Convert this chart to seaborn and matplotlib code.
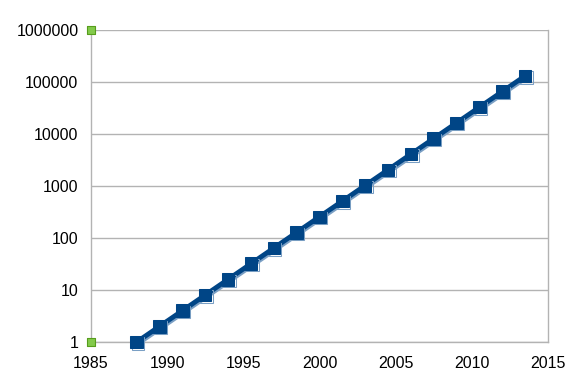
import matplotlib
matplotlib.use("Agg")
import matplotlib.pyplot as plt
import matplotlib.patheffects as pe
from matplotlib.ticker import FixedLocator, FuncFormatter
import seaborn as sns
import pandas as pd

years = [1988, 1989.5, 1991, 1992.5, 1994, 1995.5, 1997, 1998.5, 2000, 2001.5,
         2003, 2004.5, 2006, 2007.5, 2009, 2010.5, 2012, 2013.5]
values = [1, 2, 4, 8, 16, 32, 64, 128, 256, 512, 1024, 2048, 4096, 8192,
          16384, 32768, 65536, 131072]
corner_x = [1985, 1985]
corner_y = [1, 1000000]
y_ticks = [1, 10, 100, 1000, 10000, 100000, 1000000]
x_ticks = [1985, 1990, 1995, 2000, 2005, 2010, 2015]

sns.set_style("white")
plt.rcParams['font.family'] = ['Liberation Sans', 'DejaVu Sans']

fig = plt.figure(figsize=(5.82, 3.89), dpi=100)
ax = fig.add_axes([91/582, 47/389, 457/582, 312/389])

df = pd.DataFrame({"year": years, "value": values})
sns.lineplot(data=df, x="year", y="value", ax=ax, color="#004586", linewidth=3.5,
             marker="s", markersize=9, markeredgecolor="#004586", clip_on=False,
             path_effects=[pe.SimpleLineShadow(offset=(1, -1), shadow_color="#7a9fc4", alpha=1),
                           pe.Normal()], zorder=5)
cdf = pd.DataFrame({"x": corner_x, "y": corner_y})
sns.scatterplot(data=cdf, x="x", y="y", ax=ax, marker="s", s=30, color="#83ca4b",
                edgecolor="#579d1c", linewidth=0.8, zorder=6, clip_on=False)

ax.set_yscale("log")
ax.set_xlim(1985, 2015)
ax.set_ylim(1, 1000000)
ax.yaxis.set_major_locator(FixedLocator(y_ticks))
ax.yaxis.set_minor_locator(FixedLocator([]))
ax.yaxis.set_major_formatter(FuncFormatter(lambda v, p: f"{int(round(v))}"))
ax.xaxis.set_major_locator(FixedLocator(x_ticks))
ax.xaxis.set_major_formatter(FuncFormatter(lambda v, p: f"{int(round(v))}"))
ax.grid(axis="y", color="#b3b3b3", linewidth=1)
ax.set_axisbelow(True)
for s in ["left", "right", "bottom"]:
    ax.spines[s].set_color("#b3b3b3")
    ax.spines[s].set_linewidth(1)
ax.spines["top"].set_visible(False)
ax.tick_params(axis="both", which="major", length=6, width=1, color="#b3b3b3",
               labelsize=11.5, labelcolor="black", direction="out")
ax.tick_params(axis="x", pad=4)
ax.tick_params(axis="y", pad=3)
ax.set_xlabel("")
ax.set_ylabel("")

fig.savefig("out.png", dpi=100)
